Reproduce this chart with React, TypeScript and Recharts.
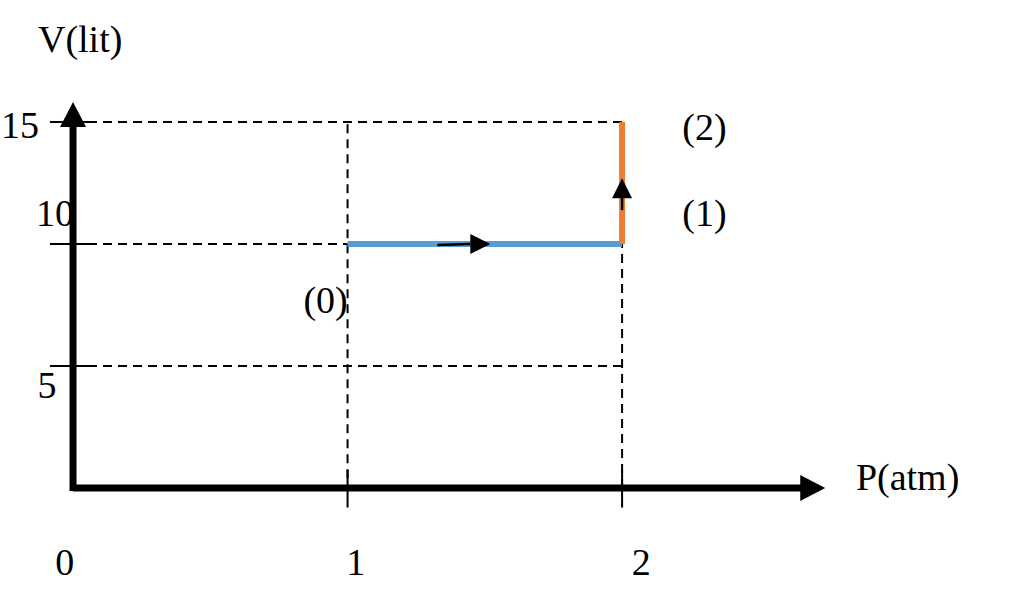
import { ComposedChart, Line, ReferenceLine, Scatter, XAxis, YAxis } from "recharts";

// P (atm) on x, V (lit) on y
const P_TICKS = [1, 2];
const V_TICKS = [5, 10, 15];

const PATH_01 = [
  { p: 1, v: 10 },
  { p: 2, v: 10 },
];
const PATH_12 = [
  { p: 2, v: 10 },
  { p: 2, v: 15 },
];

// dashed guide segments [from, to]
const GUIDES = [
  [{ p: 0, v: 15 }, { p: 2, v: 15 }],
  [{ p: 0, v: 10 }, { p: 1, v: 10 }],
  [{ p: 0, v: 5 }, { p: 2, v: 5 }],
  [{ p: 1, v: 0.4 }, { p: 1, v: 15 }],
  [{ p: 2, v: 0 }, { p: 2, v: 10 }],
];

const X_MAX = 2.74;
const Y_MAX = 15.82;

const ARROWS = [
  { p: X_MAX, v: 0, dir: "right", big: true },
  { p: 0, v: Y_MAX, dir: "up", big: true },
  { p: 1.52, v: 10, dir: "right", big: false },
  { p: 2.0, v: 12.7, dir: "up", big: false },
];

const LABELS = [
  { p: 0.026, v: 18.4, text: "V(lit)" },
  { p: 3.04, v: 0.45, text: "P(atm)" },
  { p: -0.03, v: -3.03, text: "0" },
  { p: 1.03, v: -3.03, text: "1" },
  { p: 2.07, v: -3.03, text: "2" },
  { p: -0.193, v: 14.88, text: "15" },
  { p: -0.066, v: 11.27, text: "10" },
  { p: -0.095, v: 4.22, text: "5" },
  { p: 2.3, v: 14.8, text: "(2)" },
  { p: 2.3, v: 11.27, text: "(1)" },
  { p: 0.92, v: 7.7, text: "(0)" },
];

const FONT = "'Liberation Serif', 'Times New Roman', serif";

function ArrowHead(props: any) {
  const { cx, cy, payload } = props;
  const len = payload.big ? 25 : 20;
  const half = payload.big ? 13 : 10;
  if (payload.dir === "right") {
    return (
      <g>
        {!payload.big && <line x1={cx - 53} y1={cy + 1} x2={cx - len} y2={cy} stroke="#000" strokeWidth={2.5} />}
        <polygon points={`${cx},${cy} ${cx - len},${cy - half} ${cx - len},${cy + half}`} fill="#000" />
      </g>
    );
  }
  return (
    <g>
      {!payload.big && <line x1={cx} y1={cy + 32} x2={cx} y2={cy + len} stroke="#000" strokeWidth={2.5} />}
      <polygon points={`${cx},${cy} ${cx - half},${cy + len} ${cx + half},${cy + len}`} fill="#000" />
    </g>
  );
}

function TextMark(props: any) {
  const { cx, cy, payload } = props;
  return (
    <text x={cx} y={cy} textAnchor="middle" dominantBaseline="central" fontFamily={FONT} fontSize={38} fill="#000">
      {payload.text}
    </text>
  );
}

export default function App() {
  return (
    <div style={{ position: "absolute", left: 0, top: 0, background: "#fff" }}>
      <ComposedChart width={1024} height={611} margin={{ top: 0, right: 0, bottom: 0, left: 0 }}>
        <XAxis type="number" dataKey="p" domain={[-0.266, 3.464]} allowDataOverflow hide height={0} />
        <YAxis type="number" dataKey="v" domain={[-5.04, 20]} allowDataOverflow hide width={0} />

        {GUIDES.map((g, i) => (
          <ReferenceLine
            key={`g${i}`}
            segment={[
              { x: g[0].p, y: g[0].v },
              { x: g[1].p, y: g[1].v },
            ]}
            stroke="#000"
            strokeWidth={2}
            strokeDasharray="9 6"
          />
        ))}

        {/* axes */}
        <ReferenceLine segment={[{ x: 0, y: 0 }, { x: X_MAX - 0.08, y: 0 }]} stroke="#000" strokeWidth={7} />
        <ReferenceLine segment={[{ x: 0, y: -0.12 }, { x: 0, y: Y_MAX - 0.9 }]} stroke="#000" strokeWidth={7} />

        {P_TICKS.map((p) => (
          <ReferenceLine key={`px${p}`} segment={[{ x: p, y: 0.75 }, { x: p, y: -0.8 }]} stroke="#000" strokeWidth={2} />
        ))}
        {V_TICKS.map((v) => (
          <ReferenceLine key={`vy${v}`} segment={[{ x: -0.084, y: v }, { x: 0.062, y: v }]} stroke="#000" strokeWidth={2} />
        ))}

        <Line data={PATH_01} dataKey="v" stroke="#5B9BD5" strokeWidth={6} dot={false} isAnimationActive={false} />
        <Line data={PATH_12} dataKey="v" stroke="#ED7D31" strokeWidth={6} dot={false} isAnimationActive={false} />

        <Scatter data={ARROWS} shape={ArrowHead} isAnimationActive={false} />
        <Scatter data={LABELS} shape={TextMark} isAnimationActive={false} />
      </ComposedChart>
    </div>
  );
}
